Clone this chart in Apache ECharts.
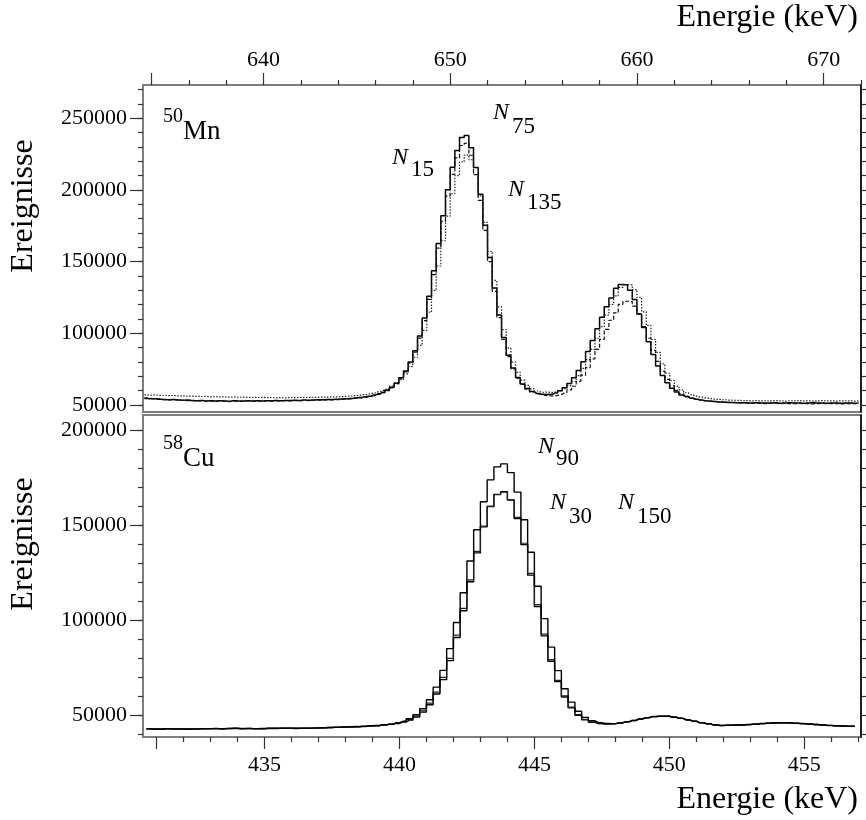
<!DOCTYPE html>
<html>
<head>
<meta charset="utf-8">
<script src="https://cdn.jsdelivr.net/npm/echarts@6/dist/echarts.min.js"></script>
<style>
  html, body { margin: 0; padding: 0; background: #fff; }
  #chart { width: 866px; height: 820px; }
</style>
</head>
<body>
<div id="chart"></div>
<script>
// Spektren, Histogramme mit 0.25 keV Bins
const binWidth = 0.25;
const mnEnergyStart = 633.5;   // linke Kante erster Bin, 50Mn
const cuEnergyStart = 430.5;   // linke Kante erster Bin, 58Cu

// 50Mn: drei Spektren (durchgezogen / gestrichelt / gepunktet)
const mnSolid = [
  54600, 54300, 54400, 54000, 53900, 53700, 53800, 53400, 53300, 53500, 53100, 53000, 53200, 52800, 52900, 52700,
  53000, 52800, 52600, 52900, 52700, 52800, 53000, 52700, 52900, 52800, 53000, 52900, 53100, 53000, 53200, 53100,
  53300, 53200, 53400, 53300, 53500, 53600, 53700, 53800, 53900,
  53980, 54140, 54330, 54570, 54860, 55200, 55620, 56110, 56900, 57760, 58900, 60420, 62440, 65220,
  68920, 73760, 80060, 87890, 98040, 110630, 125850, 143610, 162710, 181950, 200150, 215760, 227560, 236500, 238000,
  229500, 215590, 197050, 175430, 152940, 131620, 112800, 97110, 84700, 75870, 69210,
  64590, 61430, 59390, 58090, 57450, 57230, 57530, 58400, 59860, 62040, 65040, 69020, 74080, 80190, 87310, 95040,
  103140, 111200, 118590, 124640, 131500, 134000, 133800, 130000, 123500, 113500, 103970, 94160, 85190, 77170, 70630,
  65570, 61710, 58980, 57040, 55660, 54680, 53960, 53410, 52990, 52620, 52360, 52130, 51950, 51800,
  51680, 51590, 51520, 51460, 51400, 51500, 51300, 51450, 51350, 51500, 51250, 51400, 51550, 51300, 51450, 51200,
  51350, 51500, 51300, 51400, 51250, 51450, 51300, 51200, 51400, 51350, 51250, 51400
];
const mnDashed = [
  54900, 54600, 54200, 54300, 53800, 53600, 53500, 53700, 53200, 53000, 53100, 52800, 52900, 52600, 52700, 52500,
  52800, 52600, 52400, 52700, 52500, 52600, 52800, 52500, 52700, 52600, 52800, 52700, 52900, 52800, 53000, 52900,
  53100, 53000, 53200, 53100, 53300, 53400, 53300, 53500, 53600,
  53700, 53850, 54050, 54250, 54550, 54900, 55300, 55800, 56550, 57400, 58500, 59950, 61950, 64650,
  68440, 73130, 79240, 86840, 96680, 108900, 123660, 140890, 159410, 178080, 195730, 210870, 222320, 230990, 232440,
  224200, 210710, 192720, 171750, 149940, 129260, 111000, 95780, 83740, 75180, 68720,
  64300, 61100, 59100, 57800, 57100,
  56520, 56330, 56590, 57340, 58590, 60470, 63050, 66470, 70820, 76080, 82200, 88850, 95810, 102740, 109100, 114300,
  120200, 122350, 122180, 118910, 113320, 104720, 96530, 88090, 80380, 73480, 67850, 63500, 60180, 57830, 56170,
  54980, 54140, 53520, 53040, 52680, 52370, 52140, 51940, 51790,
  51650, 51500, 51400, 51300, 51200, 51350, 51100, 51000, 51200, 51050, 50900, 51100, 51000, 50850, 51050, 50900,
  51000, 50800, 50950, 51100, 50850, 51000, 50900, 50800, 51000, 50900, 50850, 51000
];
const mnDotted = [
  57100, 56900, 57000, 56700, 56800, 56500, 56600, 56300, 56400, 56100, 56200, 56000, 55900, 56000, 55700, 55800,
  55600, 55700, 55500, 55600, 55400, 55500, 55300, 55400, 55200, 55300, 55100, 55200, 55000, 55100, 55000, 55200,
  55100, 55300, 55200, 55300, 55400, 55300, 55500, 55500, 55600,
  55700, 55850, 56050, 56250, 56550, 56850, 57250, 57700, 58350, 59150, 60150, 61450, 63250, 65650,
  67730, 71660, 76780, 83280, 91550, 102010, 114800, 129980, 146930, 164570, 181790, 197340, 209950, 219490, 224290,
  221070, 210770, 195840, 177360, 157070, 136920, 118460, 102580, 89660, 79890, 72760,
  67270, 63690, 61300, 59760, 58870,
  58950, 58730, 59030, 59900, 61360, 63540, 66540, 70520, 75580, 81690, 88810, 96540, 104640, 112700, 120090, 126140,
  132000, 134000, 133800, 130500, 125000, 115000, 105470, 95660, 86690, 78670, 72130, 67070, 63210, 60480, 58540,
  57160, 56180, 55460, 54910, 54490, 54120, 53860, 53630, 53450,
  53300, 53180, 53090, 53000, 52900, 53050, 52850, 52950, 52800, 53000, 52900, 52750, 52950, 52850, 53000, 52800,
  52900, 52700, 52850, 53000, 52800, 52900, 52750, 52850, 52950, 52800, 52700, 52900
];

// 58Cu: drei Spektren
const cuN30 = [
  42700, 42500, 42600, 42800, 42600, 42700, 42500, 42600, 42800, 42700, 42900, 42700, 42800, 43000, 42800, 42900,
  42700, 42800, 43000, 42900, 43100, 43000, 42900, 43100, 43000, 43200, 43300, 43400, 43500, 43600,
  43700, 43800, 44000, 44200, 44400,
  44730, 45070, 45550, 46270, 47280, 48930, 51520, 55420, 61050, 68650, 78690, 90900, 105030, 120280, 135500,
  149220, 159970, 166400, 167850, 163450, 153670, 139860, 123780, 107230, 91760, 78390, 67620, 59510, 53760,
  49910, 47460, 46160, 45440, 45280, 45350, 45770,
  46360, 47120, 47900, 48610, 49130, 49380, 49320, 48850, 48240, 47490, 46710, 45980, 45380, 44820, 44490, 44600,
  44630, 44750, 44920, 45180, 45430, 45660, 45820, 45900, 45880, 45660, 45470, 45230, 44970, 44720, 44500, 44310,
  44170, 44070, 44000
];
const cuN90 = [
  42800, 42600, 42500, 42700, 42700, 42600, 42600, 42700, 42700, 42800, 42800, 42800, 42900, 42900, 42900, 42800,
  42800, 42900, 42900, 43000, 43000, 43100, 43000, 43000, 43100, 43100, 43300, 43400, 43600, 43700,
  43800, 43900, 44100, 44300, 44500,
  44790, 45200, 45800, 46700, 48010, 50100, 53290, 58020, 64690, 73560, 85020, 98780, 114470, 131200, 147710,
  162510, 174030, 180890, 182450, 177840, 167590, 153000, 135830, 117900, 100830, 85800, 73400, 63820, 56800,
  51950, 48770, 46950, 45900, 45530, 45480, 45830,
  46400, 47050, 47950, 48550, 49200, 49300, 49400, 48800, 48300, 47400, 46750, 45900, 45450, 44750, 44550, 44550,
  44700, 44700, 44980, 45120, 45500, 45600, 45880, 45850, 45950, 45600, 45520, 45180, 45030, 44670, 44550, 44260,
  44220, 44020, 44050
];
const cuN150 = [
  42600, 42600, 42700, 42700, 42500, 42800, 42600, 42500, 42700, 42800, 42800, 42600, 42900, 42900, 42700, 43000,
  42800, 42700, 42900, 43000, 43000, 42900, 43000, 43000, 42900, 43200, 43200, 43300, 43500, 43600,
  43700, 43700, 43900, 44200, 44300,
  44800, 45150, 45700, 46500, 47600, 49400, 52200, 56300, 62100, 69800, 79900, 92100, 106200, 121300, 136300,
  149700, 160100, 166300, 167500, 163600, 154200, 140600, 124700, 108200, 92700, 79200, 68300, 60100, 54200,
  50200, 47700, 46300, 45500, 45300, 45400, 45800,
  46300, 47150, 47850, 48650, 49100, 49420, 49280, 48900, 48200, 47520, 46680, 46020, 45340, 44860, 44450, 44640,
  44600, 44780, 44900, 45220, 45400, 45700, 45790, 45930, 45850, 45690, 45440, 45260, 44940, 44750, 44470, 44340,
  44140, 44100, 43970
];

// Achsen / Ticks
const mnXLabels = [640, 650, 660, 670];
const mnXMajor = [634, 640, 650, 660, 670];
const mnXMinor = [636, 638, 642, 644, 646, 648, 652, 654, 656, 658, 662, 664, 666, 668, 672];
const cuXLabels = [435, 440, 445, 450, 455];
const cuXMajor = [431, 435, 440, 445, 450, 455];
const cuXMinor = [432, 433, 434, 436, 437, 438, 439, 441, 442, 443, 444, 446, 447, 448, 449,
                  451, 452, 453, 454, 456, 457];
const mnYLabels = [50000, 100000, 150000, 200000, 250000];
const mnYMinor = [50000, 60000, 70000, 80000, 90000, 100000, 110000, 120000, 130000, 140000, 150000, 160000,
                  170000, 180000, 190000, 200000, 210000, 220000, 230000, 240000, 250000, 260000, 270000];
const cuYLabels = [50000, 100000, 150000, 200000];
const cuYMinor = [40000, 50000, 60000, 70000, 80000, 90000, 100000, 110000, 120000, 130000, 140000, 150000,
                  160000, 170000, 180000, 190000, 200000];

const serif = '"Liberation Serif", "Times New Roman", Times, serif';

function binCentres(start, n) {
  const xs = [];
  for (let i = 0; i < n; i++) xs.push(start + binWidth * (i + 0.5));
  return xs;
}
function toPairs(start, values) {
  const xs = binCentres(start, values.length);
  return values.map((v, i) => [xs[i], v]);
}

const chart = echarts.init(document.getElementById('chart'));

const tickLine = { color: '#333', width: 1.2 };

// eine Achse nur fuer Ticks (ohne Linie)
function xAx(grid, pos, min, max, ticks, len, labels) {
  return {
    type: 'value', gridIndex: grid, position: pos, min: min, max: max,
    axisLine: { show: false },
    splitLine: { show: false },
    axisTick: { show: true, inside: false, length: len, customValues: ticks, lineStyle: tickLine },
    axisLabel: labels ? {
      show: true, customValues: labels, fontFamily: serif, fontSize: 22, color: '#000',
      margin: pos === 'top' ? 14 : 17, formatter: v => String(v)
    } : { show: false }
  };
}
function yAx(grid, pos, min, max, ticks, len, labels, lineColor) {
  return {
    type: 'value', gridIndex: grid, position: pos, min: min, max: max,
    axisLine: lineColor ? { show: true, lineStyle: { color: lineColor, width: 1.5 } } : { show: false },
    splitLine: { show: false },
    axisTick: { show: true, inside: false, length: len, customValues: ticks, lineStyle: tickLine },
    axisLabel: labels ? {
      show: true, customValues: labels, fontFamily: serif, fontSize: 22, color: '#000', margin: 16,
      formatter: v => String(v)
    } : { show: false }
  };
}

const mnMinX = 633.55, mnMaxX = 672.0, mnMinY = 45100, mnMaxY = 273200;
const cuMinX = 430.5, cuMaxX = 457.1, cuMinY = 38400, cuMaxY = 208250;

function histo(name, values, start, xi, yi, style) {
  return {
    name: name, type: 'line', step: 'middle', xAxisIndex: xi, yAxisIndex: yi,
    data: toPairs(start, values), symbol: 'none', silent: true,
    lineStyle: style
  };
}

function text(x, y, s, font, align, rotation) {
  const a = align || 'left';
  return {
    type: 'text', x: x, y: y, silent: true, rotation: rotation || 0,
    style: { text: s, fill: '#000', font: font, textAlign: a, align: a,
             textVerticalAlign: 'middle', verticalAlign: 'middle' }
  };
}
const italicN = 'italic 24px ' + serif;
const subFont = '23px ' + serif;
const titleFont = '32px ' + serif;

const option = {
  animation: false,
  backgroundColor: '#fff',
  grid: [
    { left: 143, top: 85, width: 718, height: 327, show: true, borderColor: '#7d7d7d', borderWidth: 2 },
    { left: 143, top: 415, width: 718, height: 322, show: true, borderColor: '#7d7d7d', borderWidth: 2 }
  ],
  xAxis: [
    xAx(0, 'top', mnMinX, mnMaxX, mnXMajor, 12, mnXLabels),
    xAx(0, 'top', mnMinX, mnMaxX, mnXMinor, 5, null),
    xAx(1, 'bottom', cuMinX, cuMaxX, cuXMajor, 12, cuXLabels),
    xAx(1, 'bottom', cuMinX, cuMaxX, cuXMinor, 5, null)
  ],
  yAxis: [
    yAx(0, 'left', mnMinY, mnMaxY, mnYLabels, 13, mnYLabels, null),
    yAx(0, 'left', mnMinY, mnMaxY, mnYMinor, 5, null, null),
    yAx(0, 'right', mnMinY, mnMaxY, mnYMinor, 5, null, '#000'),
    yAx(1, 'left', cuMinY, cuMaxY, cuYLabels, 13, cuYLabels, null),
    yAx(1, 'left', cuMinY, cuMaxY, cuYMinor, 5, null, null),
    yAx(1, 'right', cuMinY, cuMaxY, cuYMinor, 5, null, '#000')
  ],
  series: [
    histo('N15', mnSolid, mnEnergyStart, 0, 0, { color: '#000', width: 1.5, type: 'solid' }),
    histo('N135', mnDashed, mnEnergyStart, 0, 0, { color: '#111', width: 1.2, type: [4, 2] }),
    histo('N75', mnDotted, mnEnergyStart, 0, 0, { color: '#222', width: 1.2, type: [1.5, 1.5] }),
    histo('N30', cuN30, cuEnergyStart, 2, 3, { color: '#000', width: 1.4 }),
    histo('N150', cuN150, cuEnergyStart, 2, 3, { color: '#222', width: 1.2 }),
    histo('N90', cuN90, cuEnergyStart, 2, 3, { color: '#000', width: 1.4 })
  ],
  graphic: [
    // Achsentitel
    text(858, 18, 'Energie (keV)', titleFont, 'right'),
    text(858, 800, 'Energie (keV)', titleFont, 'right'),
    text(24, 206, 'Ereignisse', titleFont, 'center', Math.PI / 2),
    text(24, 544, 'Ereignisse', titleFont, 'center', Math.PI / 2),
    // Kerne
    text(163, 117, '50', '20px ' + serif),
    text(183, 132, 'Mn', '27px ' + serif),
    text(163, 444, '58', '20px ' + serif),
    text(183, 459, 'Cu', '27px ' + serif),
    // Beschriftung der Spektren
    text(392, 158, 'N', italicN), text(411, 170, '15', subFont),
    text(493, 113, 'N', italicN), text(512, 127, '75', subFont),
    text(508, 190, 'N', italicN), text(527, 203, '135', subFont),
    text(538, 447, 'N', italicN), text(556, 459, '90', subFont),
    text(550, 503, 'N', italicN), text(569, 517, '30', subFont),
    text(618, 503, 'N', italicN), text(637, 517, '150', subFont)
  ]
};

chart.setOption(option);
</script>
</body>
</html>
